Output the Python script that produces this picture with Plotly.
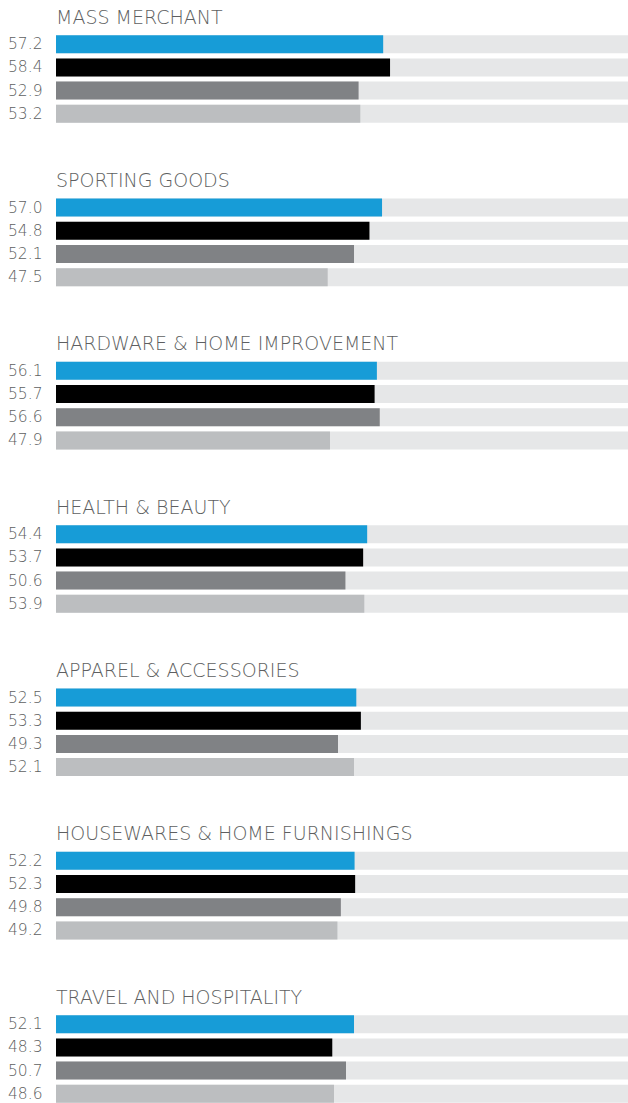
import plotly.graph_objects as go

categories = [
    "MASS MERCHANT",
    "SPORTING GOODS",
    "HARDWARE & HOME IMPROVEMENT",
    "HEALTH & BEAUTY",
    "APPAREL & ACCESSORIES",
    "HOUSEWARES & HOME FURNISHINGS",
    "TRAVEL AND HOSPITALITY",
]
series1 = [57.2, 57.0, 56.1, 54.4, 52.5, 52.2, 52.1]
series2 = [58.4, 54.8, 55.7, 53.7, 53.3, 52.3, 48.3]
series3 = [52.9, 52.1, 56.6, 50.6, 49.3, 49.8, 50.7]
series4 = [53.2, 47.5, 47.9, 53.9, 52.1, 49.2, 48.6]
max_value = 100

series = [series1, series2, series3, series4]
colors = ["#179cd7", "#000000", "#808285", "#bcbec0"]
bg_color = "#e6e7e8"
text_color = "#5e5f61"

W, H = 628, 1103
left = 56
group_pitch = 163.33
bar_pitch = 23.2
first_center = 44.2
bar_h = 18

fig = go.Figure()

all_y = []
for g in range(len(categories)):
    for j in range(4):
        all_y.append(first_center + g * group_pitch + j * bar_pitch)

fig.add_trace(go.Bar(
    x=[max_value] * len(all_y), y=all_y, orientation="h",
    marker=dict(color=bg_color, line=dict(width=0)), width=bar_h,
    hoverinfo="skip", showlegend=False,
))

for j, s in enumerate(series):
    ys = [first_center + g * group_pitch + j * bar_pitch for g in range(len(categories))]
    fig.add_trace(go.Bar(
        x=s, y=ys, orientation="h",
        marker=dict(color=colors[j], line=dict(width=0)), width=bar_h,
        showlegend=False,
    ))
    for g, v in enumerate(s):
        fig.add_annotation(
            x=-12 / (W - left), xref="paper", y=ys[g], yref="y",
            text=f"{v:.1f}", showarrow=False, xanchor="right", yanchor="middle",
            height=16, borderpad=0,
            font=dict(family="DejaVu Sans", size=15.5, color=text_color, weight=200),
        )

for g, c in enumerate(categories):
    fig.add_annotation(
        x=-0.004, xref="paper", y=first_center + g * group_pitch - 27.5, yref="y",
        text=c, showarrow=False, xanchor="left", yanchor="middle",
        font=dict(family="DejaVu Sans", size=19, color=text_color, weight=200),
    )

fig.update_layout(
    width=W, height=H,
    margin=dict(l=left, r=0, t=0, b=0),
    paper_bgcolor="white", plot_bgcolor="white",
    barmode="overlay",
    xaxis=dict(range=[0, max_value], visible=False, fixedrange=True),
    yaxis=dict(range=[H, 0], visible=False, fixedrange=True),
)

fig.write_html(
    "out.html",
    config={"displayModeBar": False},
    post_script="document.body.style.margin='0';document.body.style.overflow='hidden';",
)
